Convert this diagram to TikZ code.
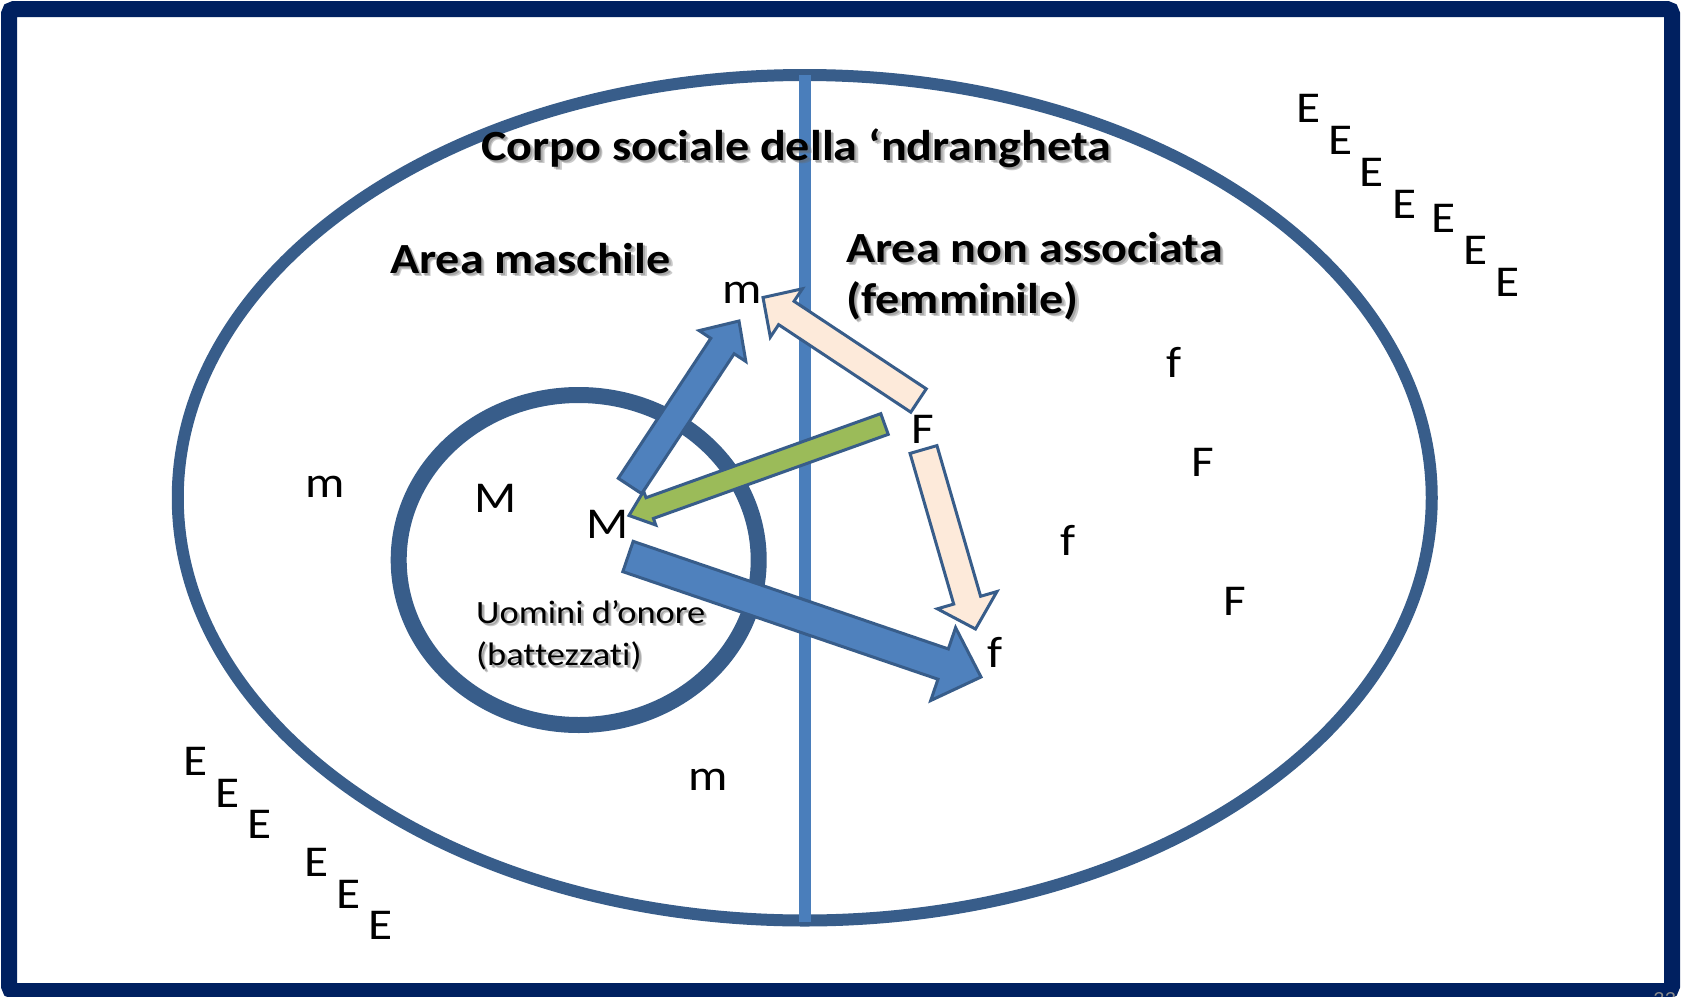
\documentclass[tikz,border=0pt]{standalone}
\usepackage{fontspec}
\setmainfont{Carlito}[FakeStretch=1.12, RawFeature={-liga}]
\usetikzlibrary{calc}
\definecolor{navy}{HTML}{002060}
\definecolor{outl}{HTML}{385D8A}
\definecolor{vblue}{HTML}{4A7EBB}
\definecolor{ablue}{HTML}{4F81BD}
\definecolor{apeach}{HTML}{FDEADA}
\definecolor{agreen}{HTML}{9BBB59}
\tikzset{
  ring/.style={draw=outl},
  letter/.style={inner sep=0pt, anchor=base, font=\fontsize{44}{53}\selectfont},
  lbl/.style={inner sep=0pt, font=\bfseries\fontsize{43}{52}\selectfont},
  lblsh/.style={lbl, text=black!60, opacity=0.35},
  small/.style={inner sep=0pt, font=\fontsize{32.5}{39}\selectfont},
  smallsh/.style={small, text=black!60, opacity=0.35},
  blockarrow/.style={draw=outl, line width=3pt, line join=miter},
}
% block arrow: tail, tip, half shaft, half head, head length, fill
\newcommand\blockarr[6]{%
  \coordinate (bah) at ($(#2)!#5!(#1)$);
  \draw[blockarrow, fill=#6]
    ($(#1)!#3!90:(#2)$) -- ($(bah)!#3!-90:(#1)$) -- ($(bah)!#4!-90:(#1)$)
    -- (#2) -- ($(bah)!#4!90:(#1)$) -- ($(bah)!#3!90:(#1)$)
    -- ($(#1)!#3!-90:(#2)$) -- cycle;}
\newcommand\shlbl[5]{% name, x, y, anchor, text
  \node[lblsh, anchor=#4] at (#2+2,#3+2) {#5};
  \node[lblsh, anchor=#4] at (#2+3.5,#3+3.5) {#5};
  \node[lbl, anchor=#4] (#1) at (#2,#3) {#5};}
\newcommand\shsmall[4]{% name, x, y, text
  \node[smallsh, anchor=base west] at (#2+2,#3+2) {#4};
  \node[smallsh, anchor=base west] at (#2+3,#3+3) {#4};
  \node[small, anchor=base west] (#1) at (#2,#3) {#4};}
\begin{document}
\begin{tikzpicture}[x=1pt,y=-1pt]
\useasboundingbox (0,0) rectangle (1681,996);
\fill[white] (0,0) rectangle (1681,996);
% frame
\draw[navy, line width=16pt, rounded corners=5pt] (9,9) rectangle (1672,991);
\node[anchor=north west, inner sep=0pt, text=black!45, font=\fontsize{20}{24}\selectfont] (pg) at (1653,992) {33};
% big ellipse and inner circle
\draw[ring, line width=12pt] (804.75,497.75) ellipse [x radius=627pt, y radius=422.75pt];
\draw[ring, line width=16pt] (578.7,560) ellipse [x radius=180pt, y radius=165pt];
% dividing line
\draw[vblue, line width=11.5pt] (805,75) -- (805,922);
% letters
\node[letter] (m1) at (325,497) {m};
\node[letter] (M1) at (495.5,512) {M};
\node[letter] (M2) at (608,538) {M};
\node[letter] (m2) at (742,303) {m};
\node[letter] (F1) at (922.5,443) {F};
\node[letter] (f1) at (995,667) {f};
\node[letter] (f2) at (1174,377) {f};
\node[letter] (F2) at (1203,476) {F};
\node[letter] (f3) at (1068,555) {f};
\node[letter] (F3) at (1235,615) {F};
\node[letter] (m3) at (708,790) {m};
% E letters bottom-left
\node[letter] (e1) at (196,775.5) {E};
\node[letter] (e2) at (228,807.5) {E};
\node[letter] (e3) at (260,838.5) {E};
\node[letter] (e4) at (317,876.5) {E};
\node[letter] (e5) at (349,908.5) {E};
\node[letter] (e6) at (381,939.5) {E};
% E letters top-right
\node[letter] (e7) at (1309,122.5) {E};
\node[letter] (e8) at (1341,154.5) {E};
\node[letter] (e9) at (1372,186.5) {E};
\node[letter] (e10) at (1405,218.5) {E};
\node[letter] (e11) at (1444,232.5) {E};
\node[letter] (e12) at (1476,264.5) {E};
\node[letter] (e13) at (1508,296.5) {E};
% arrow end points
\coordinate (a1s) at (630,486);   \coordinate (a1e) at (739,321);
\coordinate (a2s) at (918.5,400.5); \coordinate (a2e) at (763,297.5);
\coordinate (a3s) at (884.5,424); \coordinate (a3e) at (629,515.5);
\coordinate (a4s) at (923.5,449.5); \coordinate (a4e) at (975.5,629);
\coordinate (a5s) at (628,556.5); \coordinate (a5e) at (981,677);
% arrows
\blockarr{a1s}{a1e}{14pt}{28pt}{30pt}{ablue}
\blockarr{a5s}{a5e}{16pt}{38.5pt}{40pt}{ablue}
\blockarr{a2s}{a2e}{14pt}{29pt}{28pt}{apeach}
\blockarr{a4s}{a4e}{14pt}{31pt}{30pt}{apeach}
\blockarr{a3s}{a3e}{11pt}{18pt}{22pt}{agreen}
% labels
\shlbl{title}{796}{160}{base}{Corpo sociale della ‘ndrangheta}
\shlbl{amasc}{390}{273}{base west}{Area maschile}
\shlbl{anon}{846}{262}{base west}{Area non associata}
\shlbl{afem}{846}{313}{base west}{(femminile)}
\shsmall{uo1}{476}{623}{Uomini d’onore}
\shsmall{uo2}{476}{665}{(battezzati)}
\end{tikzpicture}
\end{document}
